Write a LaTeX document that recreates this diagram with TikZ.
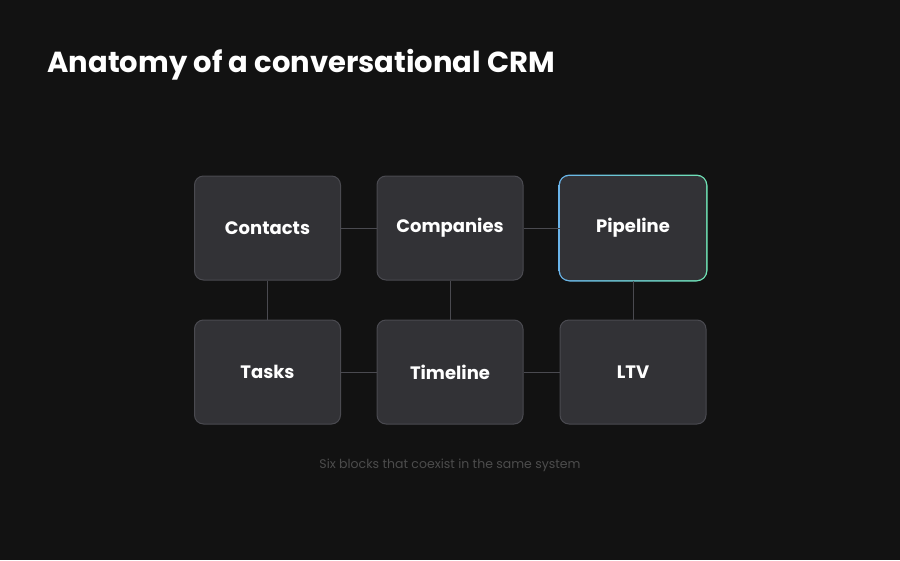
\documentclass[tikz,border=0pt]{standalone}
\usepackage{fontspec}
\setmainfont{Poppins}
\begin{document}
\begin{tikzpicture}[x=1pt,y=-1pt,
  box/.style={draw=boxline,line width=1pt,fill=boxfill,rounded corners=9pt,minimum width=146pt,minimum height=104pt,text=white,font=\fontsize{18}{20}\selectfont\bfseries},
  link/.style={draw=linkc,line width=1pt}]
\definecolor{bg}{HTML}{121212}
\definecolor{boxfill}{HTML}{323236}
\definecolor{boxline}{HTML}{4A4A50}
\definecolor{linkc}{HTML}{4A4A50}
\definecolor{gl}{HTML}{6AB4EA}
\definecolor{gr}{HTML}{6FE3B4}
\fill[bg] (0,0) rectangle (900,560);
\useasboundingbox (0,0) rectangle (900,560);
\node[anchor=base west,text=white,font=\fontsize{29}{32}\selectfont\bfseries] (title) at (44,72) {Anatomy of a conversational CRM};
\node[box] (contacts) at (267.5,228) {Contacts};
\node[box] (companies) at (450,228) {Companies};
\shade[left color=gl,right color=gr,rounded corners=11pt] (558.5,174.5) rectangle (707.5,281.5);
\node[box,draw=none] (pipeline) at (633,228) {Pipeline};
\node[box] (tasks) at (267.5,372) {Tasks};
\node[box] (timeline) at (450,372) {Timeline};
\node[box] (ltv) at (633,372) {LTV};
\draw[link] (contacts) -- (companies);
\draw[link] (companies) -- (pipeline);
\draw[link] (tasks) -- (timeline);
\draw[link] (timeline) -- (ltv);
\draw[link] (contacts) -- (tasks);
\draw[link] (companies) -- (timeline);
\draw[link] (pipeline) -- (ltv);
\node[text=linkc!110,font=\fontsize{12.5}{14}\selectfont,text=gray!60!black] (cap) at (450,465) {Six blocks that coexist in the same system};
\end{tikzpicture}
\end{document}
